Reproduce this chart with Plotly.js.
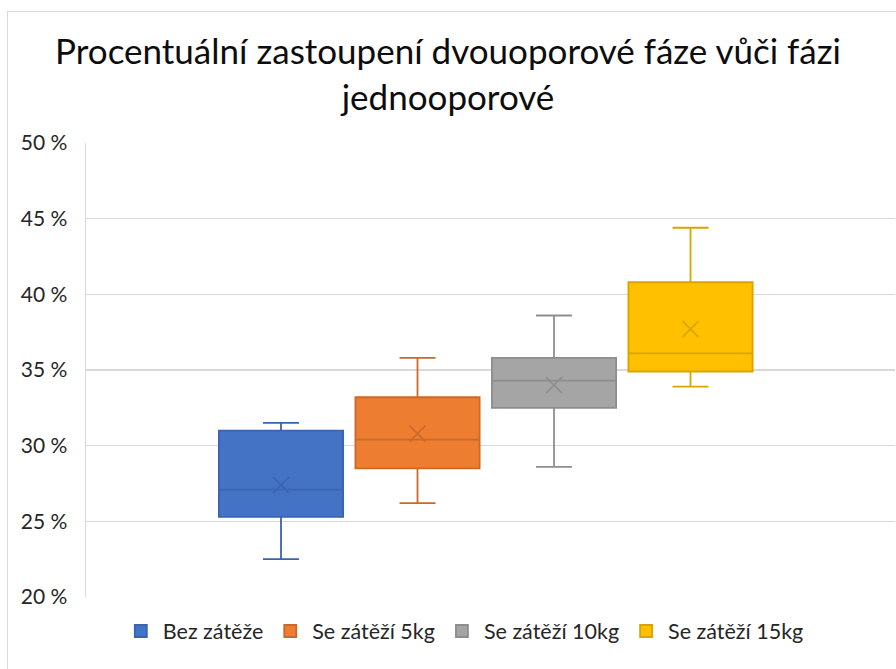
<!DOCTYPE html>
<html>
<head>
<meta charset="utf-8">
<script src="https://cdn.plot.ly/plotly-3.0.1.min.js"></script>
<style>
  html, body { margin: 0; padding: 0; background: #ffffff; overflow: hidden; }
  #frame { position: absolute; left: 7px; top: 11px; width: 1000px; height: 1000px; border: 1px solid #d9d9d9; box-sizing: border-box; }
  #chart { position: absolute; left: 0; top: 0; width: 896px; height: 669px; }
</style>
</head>
<body>
<div id="frame"></div>
<div id="chart"></div>
<script>
// Series names (legend)
const seriesNames = ["Bez zátěže", "Se zátěží 5kg", "Se zátěží 10kg", "Se zátěží 15kg"];
// Box statistics in percent
const lowerWhisker = [22.5, 26.2, 28.6, 33.9];
const q1Values     = [25.3, 28.5, 32.5, 34.9];
const medianValues = [27.1, 30.4, 34.3, 36.1];
const q3Values     = [31.0, 33.2, 35.8, 40.8];
const upperWhisker = [31.5, 35.8, 38.6, 44.4];
const meanValues   = [27.4, 30.8, 34.0, 37.7];
// Y axis ticks
const yTickValues = [20, 25, 30, 35, 40, 45, 50];
const yTickLabels = ["20 %", "25 %", "30 %", "35 %", "40 %", "45 %", "50 %"];

const fillColors = ["#4472C4", "#ED7D31", "#A5A5A5", "#FFC000"];
const lineColors = ["#3A64B0", "#C96A2A", "#8E8E8E", "#D9A400"];

const traces = [];
seriesNames.forEach((name, i) => {
  traces.push({
    type: "box",
    name: name,
    x: [name],
    q1: [q1Values[i]],
    median: [medianValues[i]],
    q3: [q3Values[i]],
    lowerfence: [lowerWhisker[i]],
    upperfence: [upperWhisker[i]],
    fillcolor: fillColors[i],
    line: { color: lineColors[i], width: 1.8 },
    whiskerwidth: 0.29,
    boxpoints: false,
    hoverinfo: "y"
  });
});
seriesNames.forEach((name, i) => {
  traces.push({
    type: "scatter",
    mode: "markers",
    x: [name],
    y: [meanValues[i]],
    showlegend: false,
    hoverinfo: "y",
    marker: { symbol: "x-thin-open", size: 16, color: lineColors[i], line: { color: lineColors[i], width: 1.6 } }
  });
});

const layout = {
  width: 896,
  height: 669,
  paper_bgcolor: "rgba(0,0,0,0)",
  plot_bgcolor: "rgba(0,0,0,0)",
  margin: { l: 86, r: 1, t: 143, b: 72 },
  font: { family: "Lato, 'Open Sans', sans-serif", color: "#262626" },
  title: {
    text: "Procentuální zastoupení dvouoporové fáze vůči fázi<br>jednooporové",
    font: { family: "Lato, sans-serif", size: 35, color: "#0d0d0d" },
    x: 0.5, xanchor: "center",
    y: 1 - 64 / 669, yanchor: "top"
  },
  boxmode: "overlay",
  boxgap: 0.09,
  boxgroupgap: 0,
  xaxis: {
    type: "category",
    categoryorder: "array",
    categoryarray: seriesNames,
    range: [-1.4286, 4.498],
    showticklabels: false,
    showgrid: false,
    zeroline: false,
    showline: false,
    ticks: ""
  },
  yaxis: {
    range: [20, 50],
    tickvals: yTickValues,
    ticktext: yTickLabels,
    tickfont: { family: "Lato, sans-serif", size: 21, color: "#262626" },
    showgrid: true,
    gridcolor: "#d9d9d9",
    gridwidth: 1.5,
    zeroline: false,
    showline: true,
    linecolor: "#d9d9d9",
    linewidth: 1.5,
    ticks: "",
    ticklabelstandoff: 13
  },
  showlegend: true,
  legend: {
    orientation: "h",
    x: 0.467, xanchor: "center",
    y: -0.075, yanchor: "middle",
    font: { family: "Lato, sans-serif", size: 21.5, color: "#262626" },
    itemwidth: 34,
    traceorder: "normal"
  }
};

Plotly.newPlot("chart", traces, layout, { displayModeBar: false, staticPlot: true });
</script>
</body>
</html>
